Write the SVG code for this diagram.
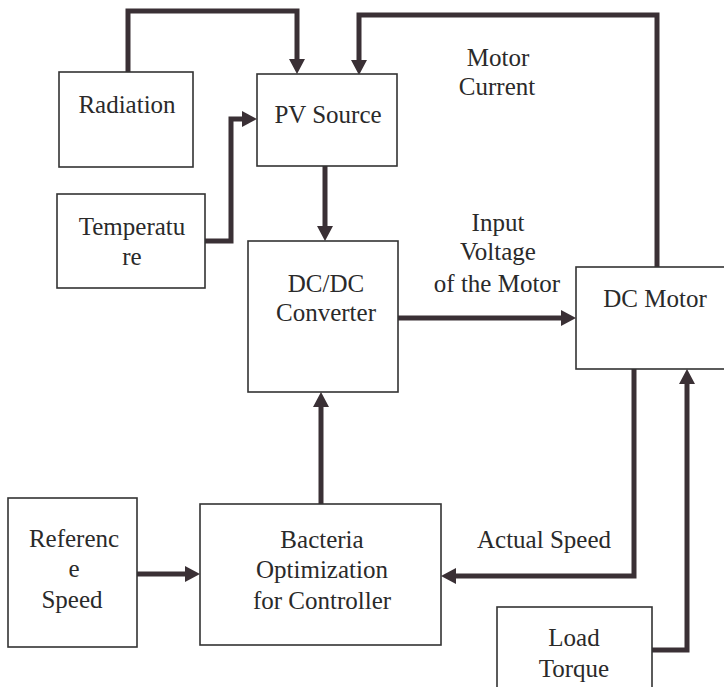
<svg xmlns="http://www.w3.org/2000/svg" width="724" height="687" viewBox="0 0 724 687">
<style>
.box{fill:#fff;stroke:#333;stroke-width:1.6}
.lbl{font-family:'Liberation Serif','Times New Roman','DejaVu Serif',serif;font-size:25px;fill:#2a2a2a;text-anchor:middle}
.conn{fill:none;stroke:#3a3035;stroke-width:5;stroke-linejoin:miter}
</style>
<defs>
<marker id="ah" markerUnits="userSpaceOnUse" markerWidth="15" markerHeight="16" refX="0" refY="8" orient="auto">
<path d="M0,0 L15,8 L0,16 z" fill="#3a3035"/>
</marker>
</defs>
<rect width="724" height="687" fill="#fff"/>
<g id="connectors">
<path class="conn" d="M128,72 V11 H297 V59" marker-end="url(#ah)"/>
<path class="conn" d="M657,267 V15 H359 V60" marker-end="url(#ah)"/>
<path class="conn" d="M205,241 H231 V119 H242" marker-end="url(#ah)"/>
<path class="conn" d="M325,166 V226" marker-end="url(#ah)"/>
<path class="conn" d="M398,318 H561" marker-end="url(#ah)"/>
<path class="conn" d="M321,504 V407" marker-end="url(#ah)"/>
<path class="conn" d="M137,574 H185" marker-end="url(#ah)"/>
<path class="conn" d="M634,369 V576 H456" marker-end="url(#ah)"/>
<path class="conn" d="M652,650 H687 V384" marker-end="url(#ah)"/>
</g>
<g id="radiation"><rect class="box" x="59" y="72" width="134" height="95"/><text class="lbl" x="127" y="113">Radiation</text></g>
<g id="pv-source"><rect class="box" x="257" y="74" width="140" height="92"/><text class="lbl" x="328" y="123">PV Source</text></g>
<g id="temperature"><rect class="box" x="57" y="194" width="148" height="94"/><text class="lbl" x="132" y="235">Temperatu</text><text class="lbl" x="132" y="265">re</text></g>
<g id="dcdc"><rect class="box" x="248" y="241" width="150" height="151"/><text class="lbl" x="326" y="292">DC/DC</text><text class="lbl" x="326" y="321">Converter</text></g>
<g id="dc-motor"><rect class="box" x="576" y="267" width="160" height="102"/><text class="lbl" x="655" y="307">DC Motor</text></g>
<g id="reference-speed"><rect class="box" x="8" y="498" width="129" height="149"/><text class="lbl" x="74" y="547">Referenc</text><text class="lbl" x="74" y="577">e</text><text class="lbl" x="72" y="608">Speed</text></g>
<g id="bacteria"><rect class="box" x="200" y="504" width="241" height="141"/><text class="lbl" x="322" y="548">Bacteria</text><text class="lbl" x="322" y="578">Optimization</text><text class="lbl" x="322" y="609">for Controller</text></g>
<g id="load-torque"><rect class="box" x="497" y="607" width="155" height="85"/><text class="lbl" x="574" y="646">Load</text><text class="lbl" x="574" y="677">Torque</text></g>
<g id="labels">
<text class="lbl" x="498" y="66">Motor</text>
<text class="lbl" x="497" y="95">Current</text>
<text class="lbl" x="498" y="231">Input</text>
<text class="lbl" x="498" y="260">Voltage</text>
<text class="lbl" x="497" y="292">of the Motor</text>
<text class="lbl" x="544" y="548">Actual Speed</text>
</g>
</svg>
